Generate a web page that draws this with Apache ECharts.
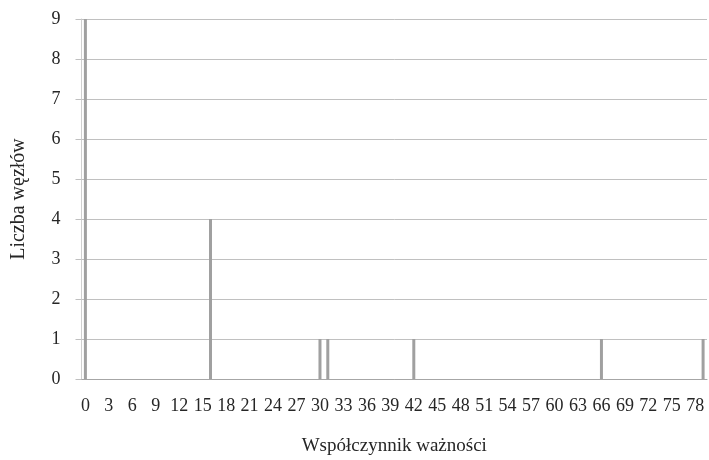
<!DOCTYPE html>
<html>
<head>
<meta charset="utf-8">
<script src="https://cdn.jsdelivr.net/npm/echarts@6/dist/echarts.min.js"></script>
<style>html,body{margin:0;padding:0;background:#fff}#c{width:709px;height:460px}</style>
</head>
<body>
<div id="c"></div>
<script>
var categories = [0,1,2,3,4,5,6,7,8,9,10,11,12,13,14,15,16,17,18,19,20,21,22,23,24,25,26,27,28,29,30,31,32,33,34,35,36,37,38,39,40,41,42,43,44,45,46,47,48,49,50,51,52,53,54,55,56,57,58,59,60,61,62,63,64,65,66,67,68,69,70,71,72,73,74,75,76,77,78,79];
var counts = [9,0,0,0,0,0,0,0,0,0,0,0,0,0,0,0,4,0,0,0,0,0,0,0,0,0,0,0,0,0,1,1,0,0,0,0,0,0,0,0,0,0,1,0,0,0,0,0,0,0,0,0,0,0,0,0,0,0,0,0,0,0,0,0,0,0,1,0,0,0,0,0,0,0,0,0,0,0,0,1];
var xTitle = 'Współczynnik ważności';
var yTitle = 'Liczba węzłów';

var font = '"Liberation Serif", "Times New Roman", serif';
var chart = echarts.init(document.getElementById('c'), null, {renderer: 'canvas'});
chart.setOption({
  animation: false,
  backgroundColor: '#fff',
  grid: {left: 81.5, right: 2, top: 19, bottom: 81, containLabel: false, outerBoundsMode: 'none'},
  xAxis: {
    type: 'category',
    data: categories.map(String),
    name: xTitle,
    nameLocation: 'middle',
    nameGap: 58,
    nameTextStyle: {fontFamily: font, fontSize: 19, color: '#262626'},
    axisLine: {show: true, lineStyle: {color: '#a6a6a6', width: 1}},
    axisTick: {show: false},
    axisLabel: {interval: 2, margin: 18, fontFamily: font, fontSize: 18, color: '#262626'},
    splitLine: {show: false}
  },
  yAxis: {
    type: 'value',
    min: 0, max: 9, interval: 1,
    name: yTitle,
    nameLocation: 'middle',
    nameGap: 53,
    nameRotate: 90,
    nameTextStyle: {fontFamily: font, fontSize: 20, color: '#262626'},
    axisLine: {show: true, lineStyle: {color: '#d0d0d0', width: 1}},
    axisTick: {show: true, length: 6, lineStyle: {color: '#c0c0c0'}},
    axisLabel: {margin: 21, fontFamily: font, fontSize: 18, color: '#262626'},
    splitLine: {show: true, lineStyle: {color: '#c0c0c0', width: 1}}
  },
  series: [{
    type: 'bar',
    data: counts,
    barWidth: 3,
    itemStyle: {color: '#a0a0a0'}
  }]
});
</script>
</body>
</html>
